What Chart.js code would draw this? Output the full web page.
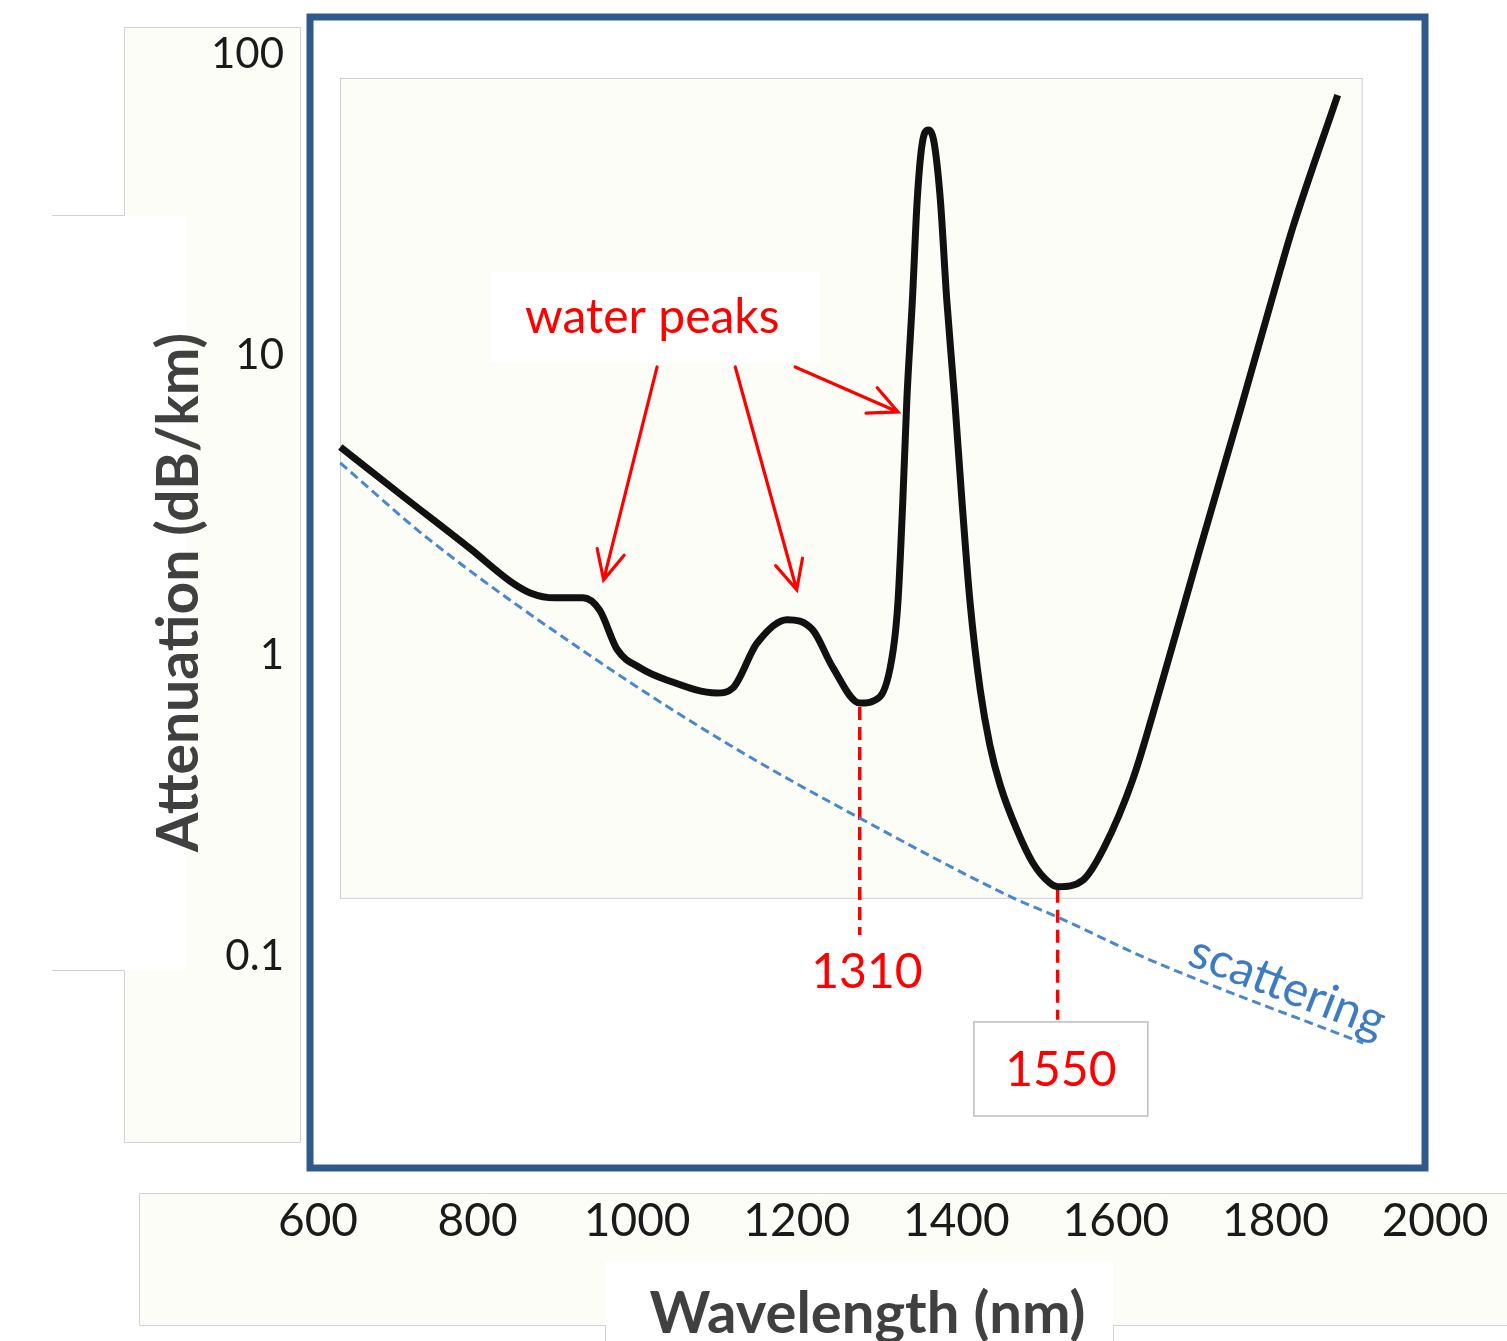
<!DOCTYPE html>
<html>
<head>
<meta charset="utf-8">
<title>Fibre attenuation</title>
<script src="https://cdn.jsdelivr.net/npm/chart.js@4.4.1/dist/chart.umd.min.js"></script>
<style>
html,body{margin:0;padding:0;background:#fff;}
#wrap{width:1507px;height:1341px;}
</style>
</head>
<body>
<div id="wrap"><canvas id="c" width="1507" height="1341"></canvas></div>
<script>
// ---- values ----
var lossNm = [628,703,791,841,866,897,932,953,975,1004,1037,1100,1120,1150,1188,1220,1245,1279,1304,1321,1327,
              1333,1338,1345,1351,1357,1365,1372,1380,1388,1398,1407,1417,1430,1442,1455,1476,1496,1517,1527,1559,1585,1621,
              1655,1705,1756,1806,1822,1878];
var lossDb = [4.95,3.45,2.27,1.77,1.62,1.56,1.56,1.42,1.05,0.912,0.832,0.753,0.782,1.10,1.32,1.22,0.918,0.697,0.730,1.05,1.53,
              3.30,7.09,15.3,32.8,49.9,56.0,51.1,32.8,15.3,7.09,3.30,1.53,0.770,0.506,0.372,0.264,0.205,0.176,0.171,0.180,0.230,0.387,
              0.770,2.25,6.57,19.2,26.7,73.2];

var scatNm = [628,740,953,1120,1279,1471,1527,1643,1910];
var scatDb = [4.38,2.43,0.954,0.498,0.289,0.157,0.1355,0.0975,0.0516];

// window markers (dashed red drop lines)
var win1310Nm = [1279,1279];
var win1310Db = [0.676,0.118];
var win1550Nm = [1527,1527];
var win1550Db = [0.167,0.0617];

var xTicks = [600,800,1000,1200,1400,1600,1800,2000];
var yTicks = [0.1,1,10,100];

// ---- annotation anchors (data units) ----
var ann = {
    peaksText: {nm:1019, db:13.3},
    peaksBox:  {nm0:816, nm1:1229, db0:18.9, db1:9.48},
    arrows: [
        {fromNm:1025, fromDb:9.13, toNm:958,  toDb:1.79},
        {fromNm:1123, fromDb:9.13, toNm:1200, toDb:1.66},
        {fromNm:1198, fromDb:9.13, toNm:1327, toDb:6.47}
    ],
    t1310: {nm:1288, db:0.0883},
    t1550: {nm:1531, db:0.042},
    box1550: {nm0:1422, nm1:1640, db0:0.0607, db1:0.02955},
    scat: {nm:1815, db:0.0795},
    panel: {nm0:627.6, nm1:1908, db0:83.4, db1:0.157}
};

var FONT = 'Lato, "Open Sans", sans-serif';

function pts(xs, ys){
    var out = [];
    for (var i = 0; i < xs.length; i++) out.push({x: xs[i], y: ys[i]});
    return out;
}

function drawArrow(ctx, x0, y0, x1, y1){
    var a = Math.atan2(y1 - y0, x1 - x0), L = 32, s = 0.45;
    ctx.beginPath();
    ctx.moveTo(x0, y0); ctx.lineTo(x1, y1);
    ctx.moveTo(x1 - L*Math.cos(a - s), y1 - L*Math.sin(a - s));
    ctx.lineTo(x1, y1);
    ctx.lineTo(x1 - L*Math.cos(a + s), y1 - L*Math.sin(a + s));
    ctx.stroke();
}

var decoPlugin = {
    id: 'deco',
    beforeDraw: function(chart){
        var ctx = chart.ctx, xs = chart.scales.x, ys = chart.scales.y;
        ctx.save();
        ctx.fillStyle = '#fff';
        ctx.fillRect(0, 0, chart.width, chart.height);

        // faint label panels left/bottom (screenshot look)
        ctx.strokeStyle = '#d2d2d2';
        ctx.lineWidth = 1;
        ctx.fillStyle = '#fdfdf7';
        ctx.fillRect(124, 28, 176, 188);
        ctx.fillRect(186, 28, 114, 1114);
        ctx.fillRect(124, 970, 176, 172);
        ctx.beginPath();
        ctx.moveTo(52, 215.5); ctx.lineTo(124.5, 215.5); ctx.lineTo(124.5, 27.5); ctx.lineTo(300.5, 27.5);
        ctx.lineTo(300.5, 1142.5); ctx.lineTo(124.5, 1142.5); ctx.lineTo(124.5, 970.5); ctx.lineTo(52, 970.5);
        ctx.stroke();
        ctx.fillRect(139, 1193, chart.width - 139, 132);
        ctx.fillStyle = '#fff';
        ctx.fillRect(605, 1262, 508, 80);
        ctx.beginPath();
        ctx.moveTo(chart.width, 1193.5); ctx.lineTo(139.5, 1193.5); ctx.lineTo(139.5, 1325.5); ctx.lineTo(605.5, 1325.5);
        ctx.lineTo(605.5, 1341);
        ctx.moveTo(1113.5, 1341); ctx.lineTo(1113.5, 1325.5); ctx.lineTo(chart.width, 1325.5);
        ctx.stroke();

        // cream plot panel
        var p = ann.panel;
        var px0 = xs.getPixelForValue(p.nm0), px1 = xs.getPixelForValue(p.nm1);
        var py0 = ys.getPixelForValue(p.db0), py1 = ys.getPixelForValue(p.db1);
        ctx.fillStyle = '#fdfdf7';
        ctx.fillRect(px0, py0, px1 - px0, py1 - py0);
        ctx.strokeStyle = '#cfcfcf';
        ctx.strokeRect(Math.round(px0) + 0.5, Math.round(py0) + 0.5, px1 - px0, py1 - py0);

        // white box behind "water peaks"
        var b = ann.peaksBox;
        var bx0 = xs.getPixelForValue(b.nm0), bx1 = xs.getPixelForValue(b.nm1);
        var by0 = ys.getPixelForValue(b.db0), by1 = ys.getPixelForValue(b.db1);
        ctx.fillStyle = '#fff';
        ctx.fillRect(bx0, by0, bx1 - bx0, by1 - by0);
        ctx.restore();
    },
    beforeDatasetsDraw: function(chart){
        var ctx = chart.ctx, xs = chart.scales.x, ys = chart.scales.y;
        // 1550 label box
        var b = ann.box1550;
        var x0 = xs.getPixelForValue(b.nm0), x1 = xs.getPixelForValue(b.nm1);
        var y0 = ys.getPixelForValue(b.db0), y1 = ys.getPixelForValue(b.db1);
        ctx.save();
        ctx.fillStyle = '#fff';
        ctx.fillRect(x0, y0, x1 - x0, y1 - y0);
        ctx.strokeStyle = '#bdbdbd';
        ctx.lineWidth = 1.5;
        ctx.strokeRect(x0, y0, x1 - x0, y1 - y0);
        ctx.restore();
    },
    afterDatasetsDraw: function(chart){
        var ctx = chart.ctx, xs = chart.scales.x, ys = chart.scales.y;
        ctx.save();

        // water peaks label + arrows
        ctx.fillStyle = '#ff0000';
        ctx.font = '48px ' + FONT;
        ctx.textAlign = 'center';
        ctx.textBaseline = 'middle';
        ctx.fillText('water peaks', xs.getPixelForValue(ann.peaksText.nm), ys.getPixelForValue(ann.peaksText.db));

        ctx.strokeStyle = '#ff0000';
        ctx.lineWidth = 3.2;
        ctx.lineCap = 'round';
        ctx.lineJoin = 'miter';
        for (var i = 0; i < ann.arrows.length; i++) {
            var a = ann.arrows[i];
            drawArrow(ctx, xs.getPixelForValue(a.fromNm), ys.getPixelForValue(a.fromDb),
                           xs.getPixelForValue(a.toNm), ys.getPixelForValue(a.toDb));
        }

        // window labels
        ctx.font = '48px ' + FONT;
        ctx.fillText('1310', xs.getPixelForValue(ann.t1310.nm), ys.getPixelForValue(ann.t1310.db));
        ctx.fillText('1550', xs.getPixelForValue(ann.t1550.nm), ys.getPixelForValue(ann.t1550.db));

        // scattering label, rotated along the dashed line
        ctx.translate(xs.getPixelForValue(ann.scat.nm), ys.getPixelForValue(ann.scat.db));
        ctx.rotate(21 * Math.PI / 180);
        ctx.fillStyle = '#3d7cc4';
        ctx.font = '48px ' + FONT;
        ctx.fillText('scattering', 0, 0);
        ctx.restore();
    },
    afterDraw: function(chart){
        // blue frame round the plot
        var ctx = chart.ctx, ca = chart.chartArea;
        ctx.save();
        ctx.strokeStyle = '#2e5b8b';
        ctx.lineWidth = 7;
        ctx.strokeRect(ca.left, ca.top, ca.right - ca.left, ca.bottom - ca.top);
        ctx.restore();
    }
};

var chart = new Chart(document.getElementById('c'), {
    type: 'line',
    data: {
        datasets: [
            {
                label: 'attenuation',
                data: pts(lossNm, lossDb),
                borderColor: '#111',
                borderWidth: 7,
                pointRadius: 0,
                cubicInterpolationMode: 'monotone',
                fill: false,
                borderCapStyle: 'butt'
            },
            {
                label: 'scattering',
                data: pts(scatNm, scatDb),
                borderColor: '#4a88cc',
                borderWidth: 3,
                borderDash: [9, 5],
                pointRadius: 0,
                cubicInterpolationMode: 'monotone',
                fill: false
            },
            {
                label: '1310',
                data: pts(win1310Nm, win1310Db),
                borderColor: '#ff0000',
                borderWidth: 3.5,
                borderDash: [13, 7],
                pointRadius: 0,
                fill: false
            },
            {
                label: '1550',
                data: pts(win1550Nm, win1550Db),
                borderColor: '#ff0000',
                borderWidth: 3.5,
                borderDash: [13, 7],
                pointRadius: 0,
                fill: false
            }
        ]
    },
    options: {
        responsive: false,
        devicePixelRatio: 1,
        animation: false,
        layout: { padding: { top: 17, right: 82, left: 0, bottom: 0 } },
        plugins: { legend: { display: false }, tooltip: { enabled: false } },
        scales: {
            x: {
                type: 'linear',
                min: 590,
                max: 1987.4,
                grid: { display: false, drawTicks: false },
                border: { display: false },
                afterBuildTicks: function(s){ s.ticks = xTicks.map(function(v){ return {value: v}; }); },
                afterFit: function(s){ s.height = 173; s.paddingLeft = 0; s.paddingRight = 0; },
                ticks: {
                    autoSkip: false,
                    maxRotation: 0,
                    padding: 26,
                    color: '#1a1a1a',
                    font: { family: FONT, size: 46 },
                    callback: function(v){ return String(v); }
                },
                title: {
                    display: true,
                    text: 'Wavelength (nm)',
                    color: '#404040',
                    font: { family: FONT, size: 58, weight: 'bold' },
                    padding: { top: 0, bottom: -8 }
                }
            },
            y: {
                type: 'logarithmic',
                min: 0.01985,
                max: 133,
                grid: { display: false, drawTicks: false },
                border: { display: false },
                afterBuildTicks: function(s){ s.ticks = yTicks.map(function(v){ return {value: v}; }); },
                afterFit: function(s){ s.width = 310; s.paddingTop = 0; s.paddingBottom = 0; },
                ticks: {
                    padding: 26,
                    color: '#1a1a1a',
                    font: { family: FONT, size: 42 },
                    callback: function(v){ return String(v); }
                },
                title: {
                    display: true,
                    text: 'Attenuation (dB/km)',
                    color: '#404040',
                    font: { family: FONT, size: 57, weight: 'bold' },
                    padding: { top: 145, bottom: 0 }
                }
            }
        }
    },
    plugins: [decoPlugin]
});
</script>
</body>
</html>
